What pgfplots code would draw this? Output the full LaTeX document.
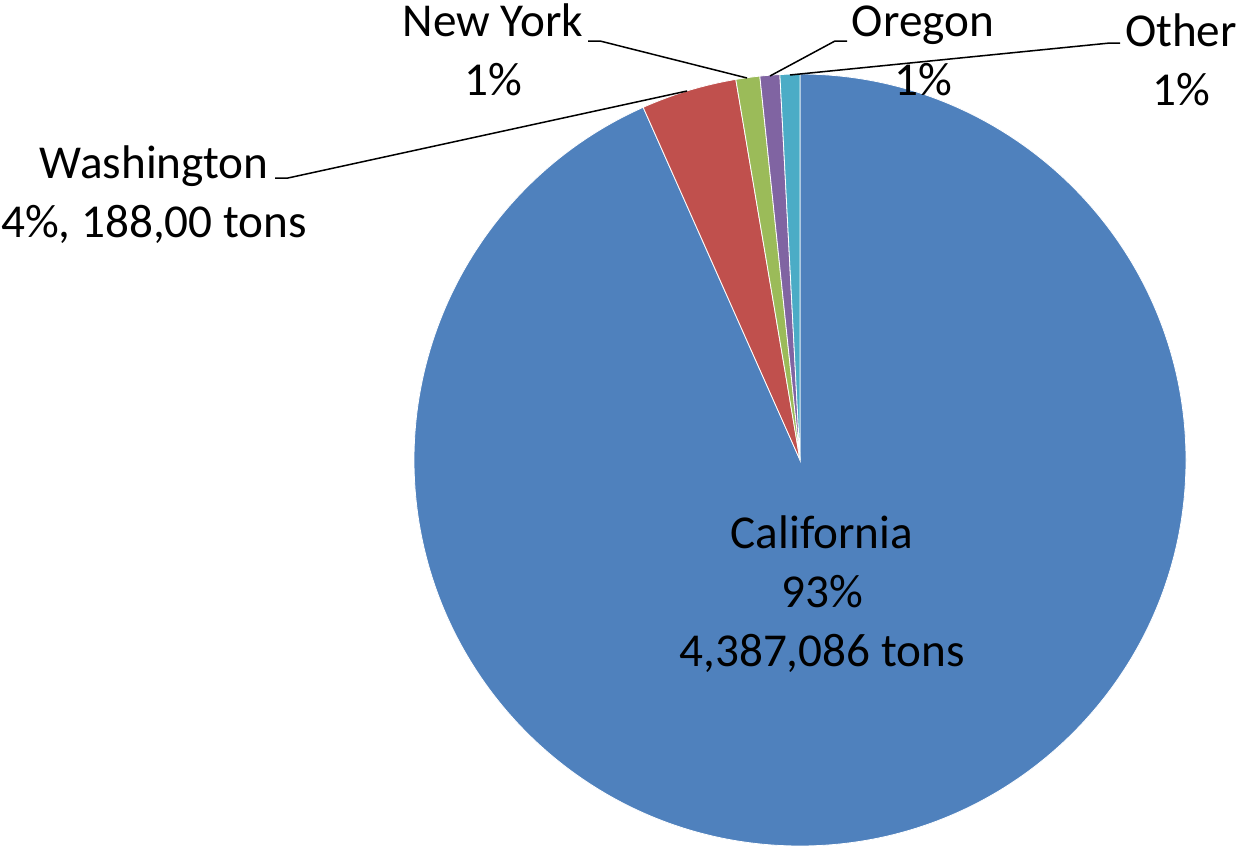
\documentclass[border=0pt]{standalone}
\usepackage{pgfplots}
\usepackage{pgfplotstable}
\pgfplotsset{compat=1.18}
\usepackage{fontspec}
\setmainfont{Carlito}

\definecolor{pieblue}{HTML}{4F81BD}
\definecolor{piered}{HTML}{C0504D}
\definecolor{piegreen}{HTML}{9BBB59}
\definecolor{piepurple}{HTML}{8064A2}
\definecolor{piecyan}{HTML}{4BACC6}

% tons per state, clockwise from 12 o'clock
\pgfplotstableread{
name value colour
California 4387086 pieblue
Washington 188000 piered
NewYork 47000 piegreen
Oregon 39000 piepurple
Other 39000 piecyan
}\piedata

\begin{document}
\begin{tikzpicture}
\fontsize{23.6}{29.5}\selectfont
% slice angles from the table
\gdef\total{0}
\foreach \i in {0,...,4}{%
  \pgfplotstablegetelem{\i}{value}\of\piedata
  \xdef\total{\fpeval{\total+\pgfplotsretval}}%
}
\gdef\curang{90}
\foreach \i in {0,...,4}{%
  \pgfplotstablegetelem{\i}{value}\of\piedata
  \xdef\nextang{\fpeval{\curang-360*\pgfplotsretval/\total}}%
  \expandafter\xdef\csname sa\i\endcsname{\curang}%
  \expandafter\xdef\csname ea\i\endcsname{\nextang}%
  \pgfplotstablegetelem{\i}{colour}\of\piedata
  \expandafter\xdef\csname col\i\endcsname{\pgfplotsretval}%
  \xdef\curang{\nextang}%
}
\begin{axis}[
    hide axis,
    scale only axis,
    x=0.5pt, y=0.5pt,
    y dir=reverse,
    xmin=0, xmax=1238,
    ymin=0, ymax=846,
    clip=false,
    ]
\pgfplotsinvokeforeach{0,...,4}{%
  \edef\tmp{\noexpand\fill[\csname col#1\endcsname, draw=white, line width=0.4pt]
    (axis cs:800,460) -- ++(\csname sa#1\endcsname:193pt)
    arc[start angle=\csname sa#1\endcsname, end angle=\csname ea#1\endcsname, radius=193pt] -- cycle;}%
  \tmp
}
% leader lines
\draw[line width=0.75pt] (axis cs:588,41) -- (axis cs:600,41) -- (axis cs:747,78);
\draw[line width=0.75pt] (axis cs:847,41) -- (axis cs:835,41) -- (axis cs:770,76);
\draw[line width=0.75pt] (axis cs:1120,43) -- (axis cs:1110,43) -- (axis cs:790,75);
\draw[line width=0.75pt] (axis cs:275,178) -- (axis cs:288,178) -- (axis cs:687,91);
% labels (base = baseline of the last line)
\node[anchor=base, align=center] at (axis cs:493,95) {New York\\1\%};
\node[anchor=base, align=center] at (axis cs:923,95) {Oregon\\1\%};
\node[anchor=base, align=center] at (axis cs:1181,105) {Other\\1\%};
\node[anchor=base, align=center] at (axis cs:154,237) {Washington\\4\%, 188,00 tons};
\node[anchor=base, align=center] at (axis cs:822,666) {California\\93\%\\4,387,086 tons};
\end{axis}
\pgfresetboundingbox
\path[use as bounding box] (current axis.south west) rectangle (current axis.north east);
\end{tikzpicture}
\end{document}
